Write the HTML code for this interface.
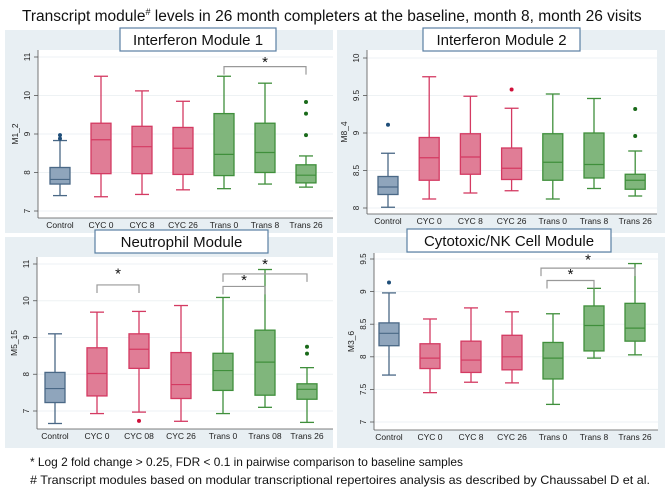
<!DOCTYPE html>
<html><head><meta charset="utf-8"><style>
body{margin:0;background:#fff;width:670px;height:494px;overflow:hidden;font-family:"Liberation Sans",sans-serif}
svg{display:block}
</style></head><body>
<svg id="fig" width="670" height="494" xmlns="http://www.w3.org/2000/svg">
<text x="22" y="21" font-size="15.5" font-family="Liberation Sans Narrow, Liberation Sans, sans-serif" fill="#111">Transcript module<tspan font-size="9" dy="-6">#</tspan><tspan dy="6"> levels in 26 month completers at the baseline, month 8, month 26 visits</tspan></text>
<text x="30" y="466" font-size="12" fill="#111" textLength="433" lengthAdjust="spacingAndGlyphs">* Log 2 fold change &gt; 0.25, FDR &lt; 0.1 in pairwise comparison to baseline samples</text>
<text x="30" y="484" font-size="12" fill="#111" textLength="620" lengthAdjust="spacingAndGlyphs"># Transcript modules based on modular transcriptional repertoires analysis as described by Chaussabel D et al.</text>
</svg>
<script>
// ---- Panel 1: Interferon Module 1 (M1_2)
const p1Cats=["Control","CYC 0","CYC 8","CYC 26","Trans 0","Trans 8","Trans 26"];
const p1Lo=[7.4,7.37,7.43,7.55,7.58,7.7,7.62];
const p1Q1=[7.7,7.97,7.97,7.95,7.92,8.0,7.73];
const p1Med=[7.82,8.85,8.67,8.63,8.47,8.52,7.93];
const p1Q3=[8.13,9.28,9.2,9.17,9.53,9.28,8.2];
const p1Hi=[8.83,10.5,10.12,9.85,10.5,10.32,8.43];
const p1Out=[[8.88,8.97],[],[],[],[],[],[8.97,9.53,9.83]];
const p1Ticks=[7,8,9,10,11];
// ---- Panel 2: Interferon Module 2 (M8_4)
const p2Cats=["Control","CYC 0","CYC 8","CYC 26","Trans 0","Trans 8","Trans 26"];
const p2Lo=[8.01,8.12,8.2,8.23,8.12,8.26,8.16];
const p2Q1=[8.18,8.37,8.45,8.38,8.37,8.40,8.25];
const p2Med=[8.28,8.67,8.68,8.53,8.61,8.58,8.37];
const p2Q3=[8.42,8.94,8.99,8.80,8.99,9.0,8.45];
const p2Hi=[8.73,9.75,9.49,9.33,9.52,9.46,8.76];
const p2Out=[[9.11],[],[],[9.58],[],[],[8.96,9.32]];
const p2Ticks=[8,8.5,9,9.5,10];
// ---- Panel 3: Neutrophil Module (M5_15)
const p3Cats=["Control","CYC 0","CYC 08","CYC 26","Trans 0","Trans 08","Trans 26"];
const p3Lo=[6.66,6.93,6.97,6.72,6.93,7.1,6.69];
const p3Q1=[7.23,7.41,8.16,7.34,7.56,7.43,7.32];
const p3Med=[7.61,8.02,8.68,7.72,8.1,8.33,7.59];
const p3Q3=[8.05,8.72,9.1,8.59,8.57,9.2,7.74];
const p3Hi=[9.1,9.69,9.71,9.87,10.09,10.85,8.18];
const p3Out=[[],[],[6.73],[],[],[],[8.56,8.75]];
const p3Ticks=[7,8,9,10,11];
// ---- Panel 4: Cytotoxic/NK Cell Module (M3_6)
const p4Cats=["Control","CYC 0","CYC 8","CYC 26","Trans 0","Trans 8","Trans 26"];
const p4Lo=[7.72,7.45,7.61,7.6,7.27,7.98,8.03];
const p4Q1=[8.17,7.82,7.76,7.8,7.66,8.09,8.24];
const p4Med=[8.36,7.98,7.95,8.0,7.98,8.48,8.44];
const p4Q3=[8.52,8.2,8.24,8.33,8.22,8.78,8.82];
const p4Hi=[8.98,8.58,8.75,8.69,8.66,9.05,9.43];
const p4Out=[[9.14],[],[],[],[],[],[]];
const p4Ticks=[7,7.5,8,8.5,9,9.5];

const NS="http://www.w3.org/2000/svg";
const svg=document.getElementById('fig');
function mk(tag,attrs,parent){const e=document.createElementNS(NS,tag);for(const k in attrs)e.setAttribute(k,attrs[k]);(parent||svg).appendChild(e);return e;}
const fills=["#8fa5bc","#e07d96","#e07d96","#e07d96","#80b67c","#80b67c","#80b67c"];
const strokes=["#4a6886","#d43a62","#d43a62","#d43a62","#3f8f3b","#3f8f3b","#3f8f3b"];
const dots=["#1f4e79","#d0103a","#d0103a","#d0103a","#1a6a1a","#1a6a1a","#1a6a1a"];

function panel(cfg){
  const g=mk('g',{});
  
  
  const bg=mk('rect',{x:cfg.bx,y:cfg.by,width:cfg.bw,height:cfg.bh,fill:'#e8eff3'},g);
  
  
  const pl=mk('rect',{x:cfg.left,y:cfg.top,width:cfg.right-cfg.left,height:cfg.bottom-cfg.top,fill:'#fff'},g);
  
  
  const y=v=>cfg.y0px+(v-cfg.v0)*(cfg.y1px-cfg.y0px)/(cfg.v1-cfg.v0);
  const x=i=>cfg.x0+i*cfg.dx;
  cfg.ticks.forEach(t=>{
    const gl=mk('line',{x1:cfg.left,x2:cfg.right,y1:y(t),y2:y(t),stroke:'#eef2f4','stroke-width':1},g);
    
    
    mk('line',{x1:cfg.left-4,x2:cfg.left,y1:y(t),y2:y(t),stroke:'#555','stroke-width':0.8},g);
    const tl=mk('text',{x:0,y:0,'font-size':8,fill:'#222','text-anchor':'middle',transform:`translate(${cfg.left-8},${y(t)}) rotate(-90)`},g);
    tl.textContent=String(t);
    
    
  });
  mk('line',{x1:cfg.left,x2:cfg.left,y1:cfg.top,y2:cfg.bottom,stroke:'#555','stroke-width':0.8},g);
  mk('line',{x1:cfg.left,x2:cfg.right,y1:cfg.bottom,y2:cfg.bottom,stroke:'#555','stroke-width':0.8},g);
  const yt=mk('text',{'font-size':8.5,fill:'#222','text-anchor':'middle',transform:`translate(${cfg.left-20},${(cfg.top+cfg.bottom)/2}) rotate(-90)`},g);
  yt.textContent=cfg.ylab;
  
  
  const bw=20;
  cfg.cats.forEach((c,i)=>{
    const cx=x(i);
    const b=mk('g',{},g);
    
    
    const st=strokes[i];
    mk('line',{x1:cx,x2:cx,y1:y(cfg.lo[i]),y2:y(cfg.q1[i]),stroke:st,'stroke-width':1.3},b);
    mk('line',{x1:cx,x2:cx,y1:y(cfg.q3[i]),y2:y(cfg.hi[i]),stroke:st,'stroke-width':1.3},b);
    mk('line',{x1:cx-7,x2:cx+7,y1:y(cfg.lo[i]),y2:y(cfg.lo[i]),stroke:st,'stroke-width':1.3},b);
    mk('line',{x1:cx-7,x2:cx+7,y1:y(cfg.hi[i]),y2:y(cfg.hi[i]),stroke:st,'stroke-width':1.3},b);
    mk('rect',{x:cx-bw/2,y:y(cfg.q3[i]),width:bw,height:y(cfg.q1[i])-y(cfg.q3[i]),fill:fills[i],stroke:st,'stroke-width':1.3},b);
    mk('line',{x1:cx-bw/2,x2:cx+bw/2,y1:y(cfg.med[i]),y2:y(cfg.med[i]),stroke:st,'stroke-width':1.2},b);
    cfg.out[i].forEach(o=>{
      const d=mk('circle',{cx:cx,cy:y(o),r:2,fill:dots[i]},b);
      
      
    });
    const xl=mk('text',{x:cx,y:cfg.bottom+10,'font-size':8.5,fill:'#222','text-anchor':'middle'},g);
    xl.textContent=c;
    
    
  });
  cfg.brackets.forEach(br=>{
    const x1=x(br[0])+(br[4]||0),x2=x(br[1]),yy=y(br[2]);
    const p=mk('path',{d:`M${x1},${yy+8}V${yy}H${x2}V${yy+8}`,fill:'none',stroke:'#999','stroke-width':1.2},g);
    
    
    const s=mk('text',{x:(x1+x2)/2,y:y(br[3])+7,'font-size':15,fill:'#111','text-anchor':'middle'},g);
    s.textContent='*';
    
    
  });
  const tb=mk('rect',{x:cfg.tx,y:cfg.ty,width:cfg.tw,height:23,fill:'#fff',stroke:'#5a7fa3','stroke-width':1.2},g);
  
  
  const tt=mk('text',{x:cfg.tx+cfg.tw/2,y:cfg.ty+17,'font-size':15,fill:'#111','text-anchor':'middle'},g);
  tt.textContent=cfg.title;
  
  
}
panel({name:'panel-interferon-1',title:'Interferon Module 1',ylab:'M1_2',bx:5,by:30,bw:328,bh:203,left:38,right:333,top:50,bottom:218,
  v0:7,v1:11,y0px:211,y1px:57,x0:60,dx:41,ticks:p1Ticks,cats:p1Cats,lo:p1Lo,q1:p1Q1,med:p1Med,q3:p1Q3,hi:p1Hi,out:p1Out,
  brackets:[[4,6,10.75,10.92]],tx:120,ty:28,tw:156});
panel({name:'panel-interferon-2',title:'Interferon Module 2',ylab:'M8_4',bx:337,by:30,bw:328,bh:203,left:367,right:657,top:50,bottom:214,
  v0:8,v1:10,y0px:208,y1px:58,x0:388,dx:41.2,ticks:p2Ticks,cats:p2Cats,lo:p2Lo,q1:p2Q1,med:p2Med,q3:p2Q3,hi:p2Hi,out:p2Out,
  brackets:[],tx:423,ty:28,tw:157});
panel({name:'panel-neutrophil',title:'Neutrophil Module',ylab:'M5_15',bx:5,by:237,bw:328,bh:211,left:37,right:333,top:257,bottom:429,
  v0:7,v1:11,y0px:411,y1px:264,x0:55,dx:42,ticks:p3Ticks,cats:p3Cats,lo:p3Lo,q1:p3Q1,med:p3Med,q3:p3Q3,hi:p3Hi,out:p3Out,
  brackets:[[1,2,10.43,10.8],[4,5,10.39,10.62],[4,6,10.73,11.05]],tx:95,ty:230,tw:173});
panel({name:'panel-cytotoxic-nk',title:'Cytotoxic/NK Cell Module',ylab:'M3_6',bx:337,by:237,bw:328,bh:211,left:374,right:658,top:253,bottom:430,
  v0:7,v1:9.5,y0px:422,y1px:259,x0:389,dx:41,ticks:p4Ticks,cats:p4Cats,lo:p4Lo,q1:p4Q1,med:p4Med,q3:p4Q3,hi:p4Hi,out:p4Out,
  brackets:[[4,5,9.17,9.3,-6],[4,6,9.36,9.52,-12]],tx:407,ty:229,tw:204});
</script>
</body></html>
